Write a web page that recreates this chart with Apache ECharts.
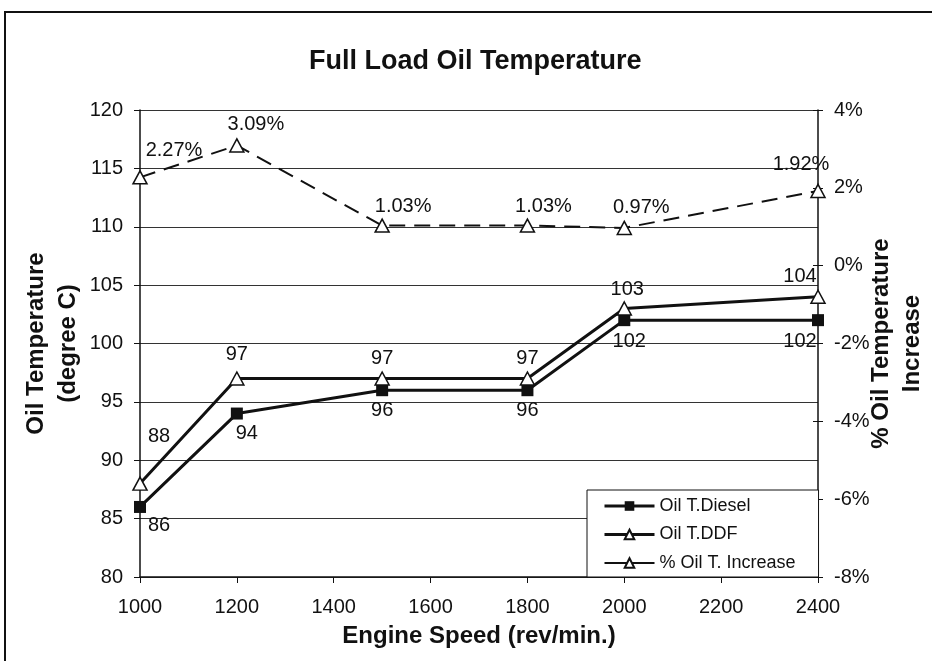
<!DOCTYPE html>
<html>
<head>
<meta charset="utf-8">
<script src="https://cdn.jsdelivr.net/npm/echarts@6/dist/echarts.min.js"></script>
<style>
  html, body { margin: 0; padding: 0; background: #fff; }
  #chart { width: 932px; height: 661px; }
</style>
</head>
<body>
<div id="chart"></div>
<script>
// Engine speeds (rev/min) and measured values
const speeds = [1000, 1200, 1500, 1800, 2000, 2400];
const dieselTemp = [86, 94, 96, 96, 102, 102];
const ddfTemp = [88, 97, 97, 97, 103, 104];
const pctIncrease = [2.27, 3.09, 1.03, 1.03, 0.97, 1.92];

// Axis ranges
const speedTicks = { min: 1000, max: 2400, step: 200 };
const tempTicks = { min: 80, max: 120, step: 5 };
const pctTicks = { min: -8, max: 4, step: 2 };

// Label nudges (px) so values sit clear of the lines
const dieselLabelShift = [[19, 19], [10, 20], [0, 20], [0, 20], [5, 21], [-18, 21]];
const ddfLabelShift = [[19, -47], [0, -24], [0, -20], [0, -20], [3, -19], [-18, -20]];
const pctLabelShift = [[34, -27], [19, -21], [21, -19], [16, -19], [17, -20], [-17, -26]];

const FONT = '"Liberation Sans", Arial, sans-serif';
const INK = '#111';

function points(ys, shifts, fmt) {
  return speeds.map((x, i) => ({
    value: [x, ys[i]],
    label: {
      show: true,
      position: 'inside',
      offset: shifts[i],
      formatter: fmt(ys[i]),
      color: INK,
      fontSize: 20,
      fontFamily: FONT
    }
  }));
}

const chart = echarts.init(document.getElementById('chart'), null, { renderer: 'canvas' });

chart.setOption({
  backgroundColor: '#fff',
  animation: false,
  graphic: [{
    type: 'rect',
    shape: { x: 5, y: 12, width: 1000, height: 1000 },
    style: { fill: 'none', stroke: INK, lineWidth: 2 },
    silent: true
  }],
  title: {
    text: 'Full Load Oil Temperature',
    left: 304,
    top: 43,
    textStyle: { fontFamily: FONT, fontSize: 27, fontWeight: 'bold', color: INK }
  },
  legend: {
    orient: 'vertical',
    left: 587,
    top: 490,
    itemWidth: 50,
    itemHeight: 12,
    itemGap: 10.5,
    padding: [7, 23, 5, 16],
    backgroundColor: '#fff',
    borderColor: INK,
    borderWidth: 1,
    borderRadius: 0,
    textStyle: { fontFamily: FONT, fontSize: 18, color: INK },
    data: [
      { name: 'Oil T.Diesel', lineStyle: { width: 3 } },
      { name: 'Oil T.DDF', lineStyle: { width: 3 } },
      { name: '% Oil T. Increase', lineStyle: { type: 'solid', width: 2 } }
    ]
  },
  grid: { left: 140, right: 114, top: 110, bottom: 84, containLabel: false, outerBoundsMode: 'none' },
  xAxis: {
    type: 'value',
    min: speedTicks.min,
    max: speedTicks.max,
    interval: speedTicks.step,
    name: 'Engine Speed (rev/min.)',
    nameLocation: 'middle',
    nameGap: 47,
    nameMoveOverlap: false,
    nameTextStyle: { fontFamily: FONT, fontSize: 24, fontWeight: 'bold', color: INK },
    axisLine: { show: true, onZero: false, lineStyle: { color: INK, width: 1.5 } },
    axisTick: { show: true, length: 6, lineStyle: { color: INK } },
    axisLabel: { fontFamily: FONT, fontSize: 20, color: INK, margin: 20, formatter: v => String(v) },
    splitLine: { show: false }
  },
  yAxis: [{
    type: 'value',
    position: 'left',
    min: tempTicks.min,
    max: tempTicks.max,
    interval: tempTicks.step,
    name: 'Oil Temperature\n(degree C)',
    nameLocation: 'middle',
    nameRotate: 90,
    nameGap: 56,
    nameMoveOverlap: false,
    nameTextStyle: { fontFamily: FONT, fontSize: 24, fontWeight: 'bold', color: INK, lineHeight: 32 },
    axisLine: { show: true, lineStyle: { color: INK, width: 1.5 } },
    axisTick: { show: true, length: 6, lineStyle: { color: INK } },
    axisLabel: { fontFamily: FONT, fontSize: 20, color: INK, margin: 17 },
    splitLine: { show: true, lineStyle: { color: '#333', width: 1 } }
  }, {
    type: 'value',
    position: 'right',
    min: pctTicks.min,
    max: pctTicks.max,
    interval: pctTicks.step,
    name: '% Oil Temperature\nIncrease',
    nameLocation: 'middle',
    nameRotate: 90,
    nameGap: 48,
    nameMoveOverlap: false,
    nameTextStyle: { fontFamily: FONT, fontSize: 24, fontWeight: 'bold', color: INK, lineHeight: 31 },
    axisLine: { show: true, lineStyle: { color: INK, width: 1.5 } },
    axisTick: { show: true, length: 5, lineStyle: { color: INK } },
    axisLabel: { fontFamily: FONT, fontSize: 20, color: INK, margin: 16, formatter: v => v + '%' },
    splitLine: { show: false }
  }, {
    // inner half of the crossing ticks on the percentage axis
    type: 'value',
    position: 'right',
    min: pctTicks.min,
    max: pctTicks.max,
    interval: pctTicks.step,
    axisLine: { show: false },
    axisTick: { show: true, inside: true, length: 5, lineStyle: { color: INK } },
    axisLabel: { show: false },
    splitLine: { show: false }
  }],
  series: [{
    name: 'Oil T.Diesel',
    type: 'line',
    yAxisIndex: 0,
    symbol: 'rect',
    symbolSize: 12,
    itemStyle: { color: INK },
    lineStyle: { color: INK, width: 3 },
    data: points(dieselTemp, dieselLabelShift, v => String(v)),
    z: 3
  }, {
    name: 'Oil T.DDF',
    type: 'line',
    yAxisIndex: 0,
    symbol: 'triangle',
    symbolSize: [14, 13],
    itemStyle: { color: '#fff', borderColor: INK, borderWidth: 1.5 },
    lineStyle: { color: INK, width: 3 },
    data: points(ddfTemp, ddfLabelShift, v => String(v)),
    z: 3
  }, {
    name: '% Oil T. Increase',
    type: 'line',
    yAxisIndex: 1,
    symbol: 'triangle',
    symbolSize: [14, 13],
    itemStyle: { color: '#fff', borderColor: INK, borderWidth: 1.5 },
    lineStyle: { color: INK, width: 2, type: [16, 9] },
    data: points(pctIncrease, pctLabelShift, v => v.toFixed(2) + '%'),
    z: 3
  }]
});
</script>
</body>
</html>
